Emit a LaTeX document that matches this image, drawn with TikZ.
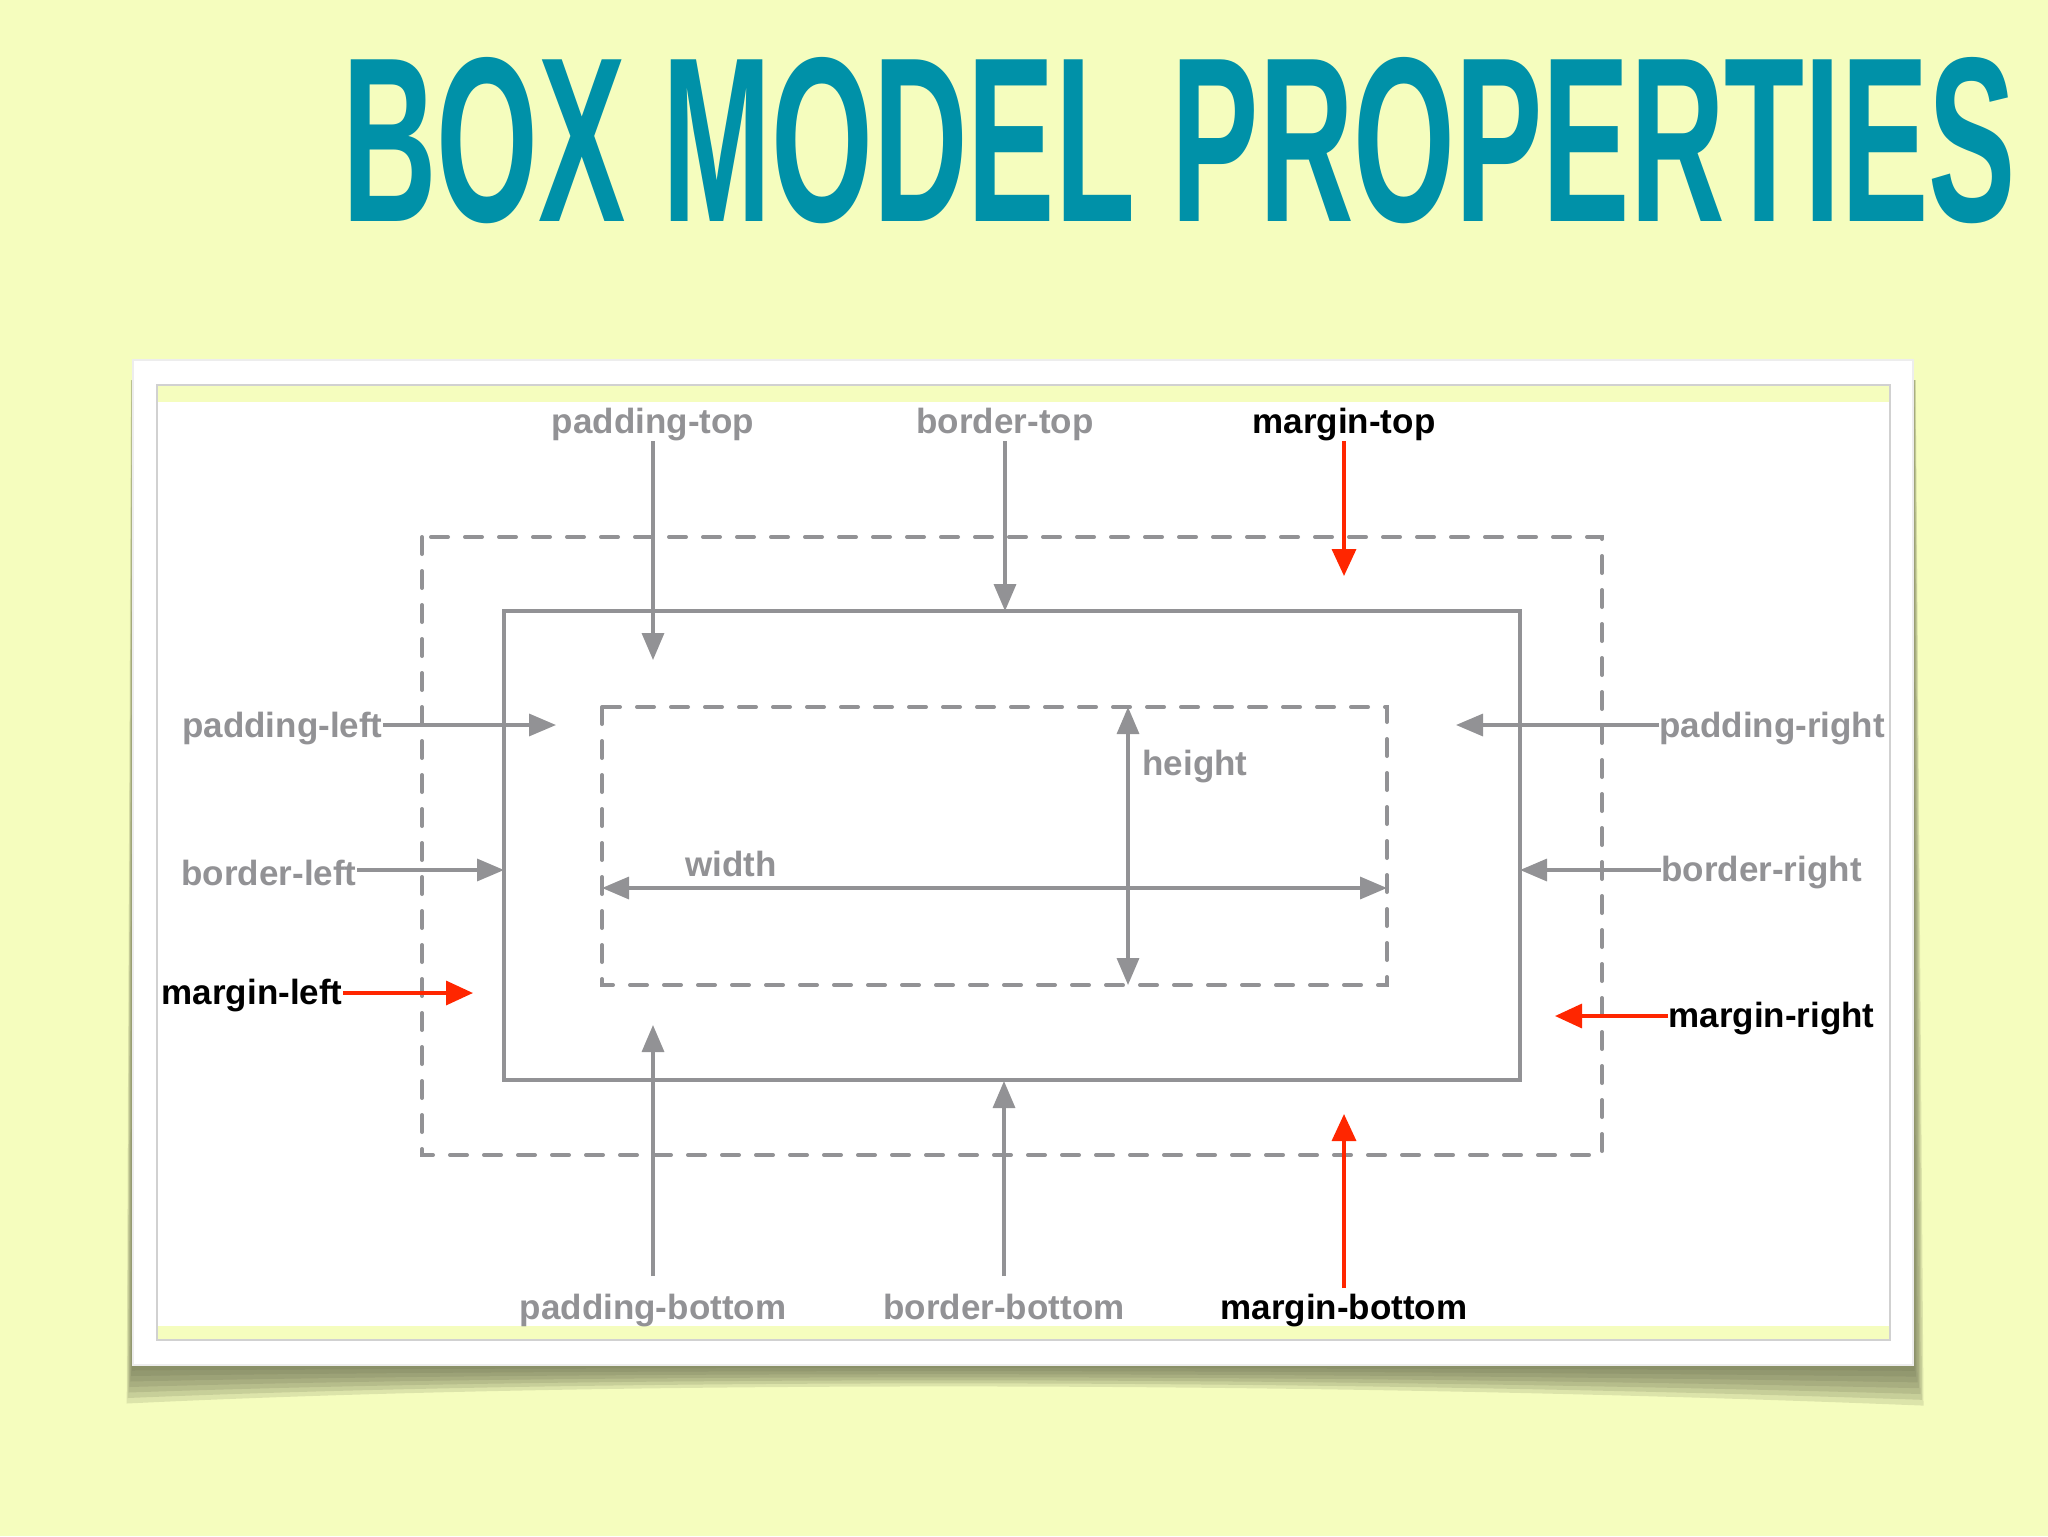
\documentclass[tikz,border=0pt]{standalone}
\usepackage{fontspec}
\usepackage{graphicx}
\setmainfont{Liberation Sans}
\usetikzlibrary{arrows.meta}
\definecolor{bgy}{RGB}{245,253,190}
\definecolor{ttl}{RGB}{0,145,168}
\definecolor{lgray}{RGB}{146,146,149}
\definecolor{rred}{RGB}{255,38,0}
\definecolor{shad}{RGB}{100,105,75}
\tikzset{
  garrow/.style={draw=lgray, line width=1.7pt, -{Triangle[length=13.5pt,width=11pt]}},
  rarrow/.style={draw=rred, line width=1.7pt, -{Triangle[length=13.5pt,width=12pt]}},
  darrow/.style={draw=lgray, line width=1.7pt, {Triangle[length=13.5pt,width=11pt]}-{Triangle[length=13.5pt,width=11pt]}},
  glab/.style={text=lgray, font=\fontsize{17.5}{20}\selectfont\bfseries, inner sep=0pt},
  blab/.style={text=black, font=\fontsize{17.5}{20}\selectfont\bfseries, inner sep=0pt},
  dashbox/.style={draw=lgray, line width=2pt, dash pattern=on 8.5pt off 8.5pt, line cap=round},
  solidbox/.style={draw=lgray, line width=2pt},
}
\begin{document}
\begin{tikzpicture}[x=0.5pt,y=-0.5pt]
\useasboundingbox (0,0) rectangle (2048,1536);
\fill[bgy] (0,0) rectangle (2048,1536);
% title
\node[anchor=north west, inner sep=0pt, text=ttl] (title) at (342,57)
  {\resizebox{836.5pt}{82pt}{\bfseries BOX MODEL PROPERTIES}};
% card shadow (soft curl, darkest under the card)
\foreach \k in {1,...,7}{
  \fill[shad, opacity=0.17]
    ({133-0.3*\k},380) -- ({133-0.9*\k},{1365+5.5*\k})
    .. controls (600,{1365+2.2*\k}) and (1300,{1365+2.2*\k}) ..
    ({1913+1.5*\k},{1365+5.8*\k}) -- ({1913+0.4*\k},380) -- cycle;
}
% card
\fill[white] (133,360) rectangle (1913,1365);
\draw[black!7, line width=0.6pt] (133,360) rectangle (1913,1365);
\draw[black!18, line width=0.6pt, fill=white] (157,385) rectangle (1890,1340);
\fill[bgy] (158,386) rectangle (1889,402);
\fill[bgy] (158,1326) rectangle (1889,1339);
% boxes
\draw[dashbox] (422,537) rectangle (1602,1155);
\draw[solidbox] (504,611) rectangle (1520,1080);
\draw[dashbox] (602,707) rectangle (1387,985);
% labels
\node[glab, anchor=south] (pt) at (653,441) {padding-top};
\node[glab, anchor=south] (bt) at (1005,441) {border-top};
\node[blab, anchor=south] (mt) at (1344,441) {margin-top};
\node[glab, anchor=east] (pl) at (383,729) {padding-left};
\node[glab, anchor=east] (bl) at (357,873) {border-left};
\node[blab, anchor=east] (ml) at (343,996) {margin-left};
\node[glab, anchor=west] (pr) at (1659,729) {padding-right};
\node[glab, anchor=west] (br) at (1661,873) {border-right};
\node[blab, anchor=west] (mr) at (1668,1019) {margin-right};
\node[glab, anchor=north] (pb) at (653,1294) {padding-bottom};
\node[glab, anchor=north] (bb) at (1004,1294) {border-bottom};
\node[blab, anchor=north] (mb) at (1344,1294) {margin-bottom};
\node[glab] (wl) at (731,864) {width};
\node[glab] (hl) at (1195,767) {height};
% arrow ends
\coordinate (ptE) at (653,660);
\coordinate (btE) at (1005,611);
\coordinate (mtE) at (1344,576);
\coordinate (plE) at (556,725);
\coordinate (blE) at (504,870);
\coordinate (mlE) at (473,993);
\coordinate (prE) at (1456,725);
\coordinate (brE) at (1520,870);
\coordinate (mrE) at (1555,1016);
\coordinate (pbE) at (653,1025);
\coordinate (bbE) at (1004,1081);
\coordinate (mbE) at (1344,1114);
\coordinate (wA) at (602,888);
\coordinate (wB) at (1387,888);
\coordinate (hA) at (1128,707);
\coordinate (hB) at (1128,985);
% arrows
\draw[garrow] (pt.south) -- (ptE);
\draw[garrow] (bt.south) -- (btE);
\draw[rarrow] (mt.south) -- (mtE);
\draw[garrow] (pl.east |- plE) -- (plE);
\draw[garrow] (bl.east |- blE) -- (blE);
\draw[rarrow] (ml.east |- mlE) -- (mlE);
\draw[garrow] (pr.west |- prE) -- (prE);
\draw[garrow] (br.west |- brE) -- (brE);
\draw[rarrow] (mr.west |- mrE) -- (mrE);
\draw[garrow, shorten <=9pt] (pb.north) -- (pbE);
\draw[garrow, shorten <=9pt] (bb.north) -- (bbE);
\draw[rarrow, shorten <=3pt] (mb.north) -- (mbE);
\draw[darrow] (wA) -- (wB);
\draw[darrow] (hA) -- (hB);
\end{tikzpicture}
\end{document}
